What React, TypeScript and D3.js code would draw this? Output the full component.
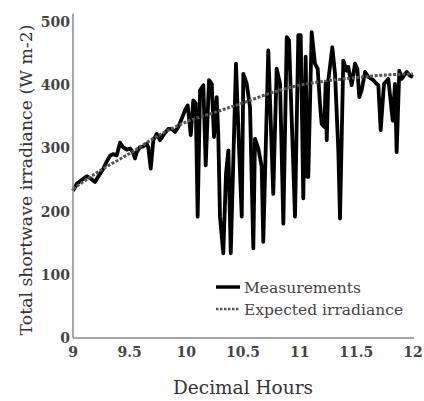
import React from "react";
import * as d3 from "d3";

// Measured total shortwave irradiance (decimal hour, W m-2)
const measTime = [
  9.0, 9.033, 9.077, 9.121, 9.15, 9.194, 9.221, 9.265, 9.297, 9.326, 9.353, 9.386,
  9.415, 9.441, 9.474, 9.503, 9.529, 9.547, 9.562, 9.591, 9.618, 9.65, 9.664, 9.686,
  9.709, 9.739, 9.768, 9.797, 9.841, 9.871, 9.9, 9.929, 9.959, 9.988, 10.012, 10.039,
  10.061, 10.083, 10.1, 10.121, 10.15, 10.171, 10.2, 10.224, 10.244, 10.268, 10.282,
  10.297, 10.326, 10.35, 10.371, 10.392, 10.438, 10.467, 10.489, 10.503, 10.533,
  10.562, 10.591, 10.606, 10.635, 10.665, 10.679, 10.723, 10.767, 10.797, 10.827,
  10.856, 10.886, 10.906, 10.959, 10.988, 11.009, 11.032, 11.053, 11.067, 11.076,
  11.106, 11.135, 11.159, 11.179, 11.194, 11.217, 11.23, 11.239, 11.253, 11.288,
  11.312, 11.341, 11.356, 11.385, 11.415, 11.429, 11.459, 11.488, 11.509, 11.526,
  11.547, 11.577, 11.606, 11.65, 11.68, 11.694, 11.715, 11.744, 11.782, 11.821,
  11.841, 11.856, 11.879, 11.9, 11.945, 11.974, 12.0,
];
const measValue = [
  233, 244, 250, 256, 253, 247, 255, 267, 279, 288, 291, 289,
  309, 302, 298, 300, 294, 284, 294, 302, 303, 307, 302, 268,
  313, 323, 313, 321, 331, 331, 326, 334, 347, 360, 368, 321,
  376, 371, 192, 392, 400, 273, 408, 402, 318, 381, 321,
  192, 134, 260, 297, 134, 434, 292, 192, 418, 402,
  365, 142, 315, 300, 271, 152, 455, 228, 426, 402,
  181, 476, 471, 192, 479, 479, 221, 445, 255, 255,
  484, 434, 426, 371, 339, 334, 405, 313, 408, 460,
  418, 297, 189, 439, 423, 429, 400, 434, 426, 381,
  392, 421, 413, 408, 402, 400, 329, 402, 410, 344,
  402, 294, 423, 410, 421, 415, 413,
];

// Expected (clear-sky) irradiance
const expTime = [9.0, 9.25, 9.5, 9.75, 10.0, 10.25, 10.5, 10.75, 11.0, 11.25, 11.5, 11.75, 12.0];
const expValue = [236, 266, 292, 320, 342, 357, 372, 388, 400, 407, 412, 416, 418];

const xTicks = [9, 9.5, 10, 10.5, 11, 11.5, 12];
const yTicks = [0, 100, 200, 300, 400, 500];
const legendLabels = ["Measurements", "Expected irradiance"];

const FONT = "'DejaVu Serif', serif";

export default function App() {
  const width = 424;
  const height = 401;
  const left = 73;
  const right = 413;
  const bottom = 338;

  const x = d3.scaleLinear().domain([9, 12]).range([left, right]);
  const y = d3.scaleLinear().domain([0, 500]).range([bottom, 22]);
  const yTop = y(513);

  const meas = measTime.map((t, i) => [t, measValue[i]] as [number, number]);
  const exp = expTime.map((t, i) => [t, expValue[i]] as [number, number]);

  const measLine = d3
    .line<[number, number]>()
    .x((d) => x(d[0]))
    .y((d) => y(d[1]));
  const expLine = d3
    .line<[number, number]>()
    .x((d) => x(d[0]))
    .y((d) => y(d[1]))
    .curve(d3.curveMonotoneX);

  return (
    <svg
      width={width}
      height={height}
      style={{ position: "absolute", left: 0, top: 0, background: "#fff" }}
      fontFamily={FONT}
    >
      {/* series */}
      <path
        d={measLine(meas) || ""}
        fill="none"
        stroke="#000"
        strokeWidth={3.8}
        strokeLinejoin="round"
      />
      <path
        d={expLine(exp) || ""}
        fill="none"
        stroke="#555"
        strokeWidth={3}
        strokeDasharray="3 1.6"
      />

      {/* axes */}
      <line x1={left} x2={left} y1={yTop} y2={bottom} stroke="#888" strokeWidth={1.5} />
      <line x1={left} x2={right + 1} y1={bottom} y2={bottom} stroke="#888" strokeWidth={1.5} />

      {yTicks.map((v) => (
        <text
          key={"y" + v}
          x={left - 3}
          y={y(v) + 5}
          textAnchor="end"
          fontSize={14}
          fontWeight="bold"
          fill="#444"
        >
          {v}
        </text>
      ))}
      {xTicks.map((v) => (
        <text
          key={"x" + v}
          x={x(v)}
          y={bottom + 19}
          textAnchor="middle"
          fontSize={14}
          fontWeight="bold"
          fill="#444"
        >
          {v}
        </text>
      ))}

      {/* axis titles */}
      <text
        transform={`translate(32, 180) rotate(-90)`}
        textAnchor="middle"
        fontSize={17.3}
        fill="#333"
      >
        Total shortwave irradiance (W m-2)
      </text>
      <text x={243} y={394} textAnchor="middle" fontSize={18.5} fill="#333">
        Decimal Hours
      </text>

      {/* legend */}
      <line x1={216} x2={240} y1={287} y2={287} stroke="#000" strokeWidth={3.5} />
      <line
        x1={216}
        x2={240}
        y1={309}
        y2={309}
        stroke="#555"
        strokeWidth={2.5}
        strokeDasharray="2.5 1.5"
      />
      <text x={244} y={293} fontSize={15.5} fill="#444">
        {legendLabels[0]}
      </text>
      <text x={244} y={315} fontSize={15.5} fill="#444">
        {legendLabels[1]}
      </text>
    </svg>
  );
}
